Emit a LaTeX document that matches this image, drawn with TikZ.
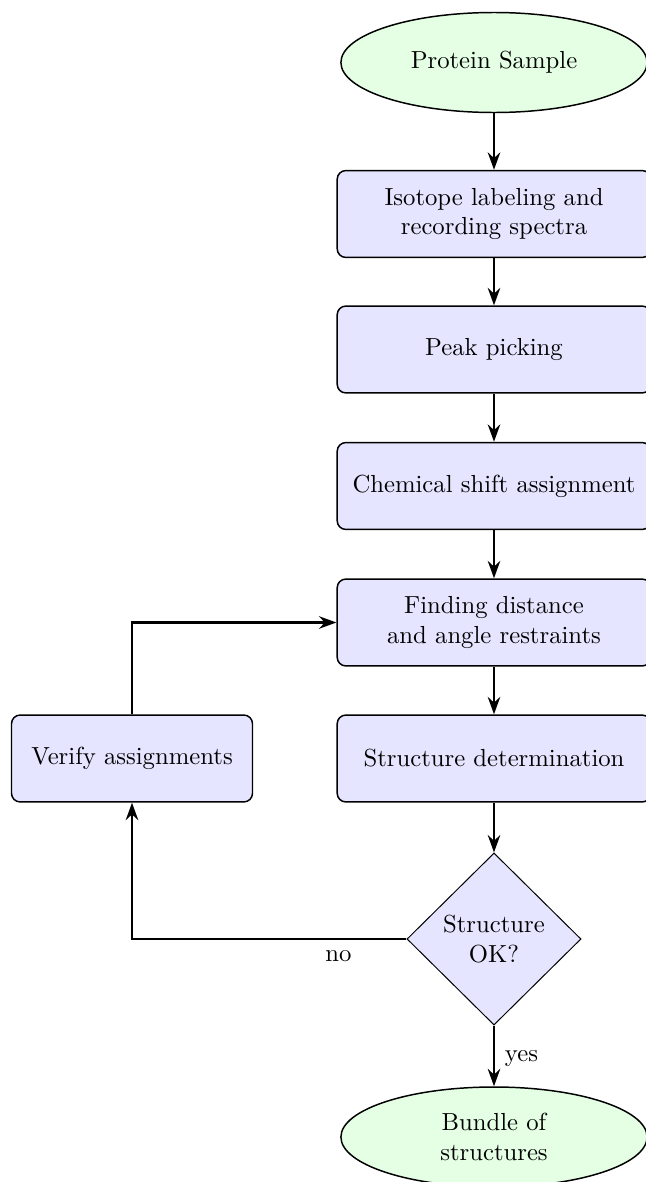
\documentclass[tikz,border=0pt]{standalone}
\usetikzlibrary{shapes.geometric,arrows.meta}
\begin{document}
\begin{tikzpicture}[x=0.405pt,y=-0.405pt,
  startstop/.style={ellipse, draw=black, semithick, fill=green!10, minimum width=124pt, minimum height=40.5pt, inner sep=1pt, align=center},
  procbox/.style={rectangle, rounded corners=3.5pt, draw=black, semithick, fill=blue!10, minimum width=127pt, minimum height=35.2pt, text width=120pt, align=center, inner sep=3.3pt},
  sidebox/.style={rectangle, rounded corners=3.5pt, draw=black, semithick, fill=blue!10, minimum width=97.6pt, minimum height=35.2pt, align=center, inner sep=3.3pt},
  decision/.style={diamond, draw=black, thin, fill=blue!10, minimum width=70.5pt, minimum height=69.7pt, inner sep=0pt, align=center},
  flow/.style={draw, line width=1.2pt, -{Stealth[length=7pt,width=5pt]}},
  lbl/.style={anchor=base, inner sep=0pt}
]
\useasboundingbox (0,0) rectangle (646,1182);
\node[startstop] (start) at (494,62.5) {Protein Sample};
\node[procbox] (iso) at (494,214) {Isotope labeling and\\recording spectra};
\node[procbox] (peak) at (494,349.5) {Peak picking};
\node[procbox] (chem) at (494,486) {Chemical shift assignment};
\node[procbox] (find) at (494,622.5) {Finding distance\\and angle restraints};
\node[procbox] (struct) at (494,758.5) {Structure determination};
\node[sidebox] (verify) at (132,758.5) {Verify assignments};
\node[decision] (ok) at (494,939) {Structure\\OK?};
\node[startstop] (bundle) at (494,1137) {Bundle of\\structures};

\draw[flow] (start) -- (iso);
\draw[flow] (iso) -- (peak);
\draw[flow] (peak) -- (chem);
\draw[flow] (chem) -- (find);
\draw[flow] (find) -- (struct);
\draw[flow] (struct) -- (ok);
\draw[flow] (ok) -- (bundle);
\draw[flow] (ok.west) -| (verify.south);
\draw[flow] (verify.north) |- (find.west);
\node[lbl] (no) at (338.5,961) {no};
\node[lbl] (yes) at (521.5,1061) {yes};
\end{tikzpicture}
\end{document}
